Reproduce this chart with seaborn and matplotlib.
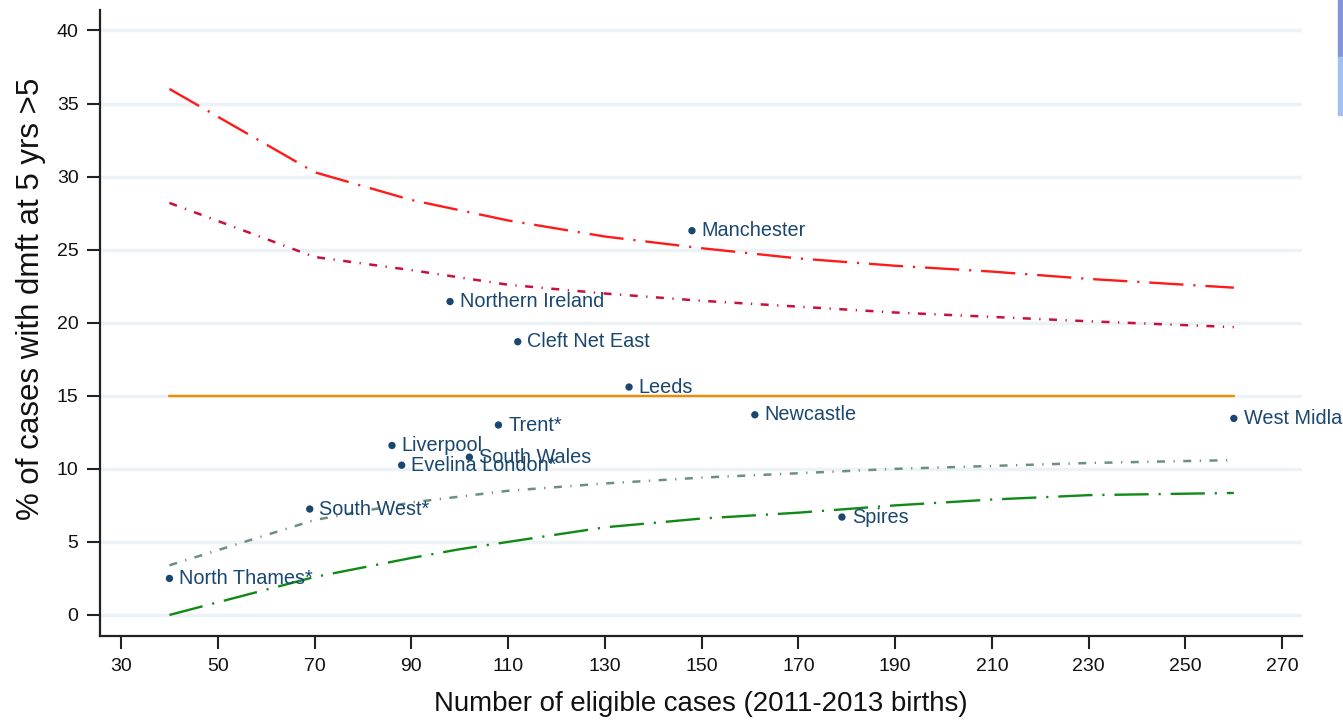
import matplotlib
matplotlib.use("Agg")
import matplotlib.pyplot as plt
import seaborn as sns
import pandas as pd
from matplotlib.patches import Rectangle

# Cleft centres: eligible cases and % with dmft > 5 at age 5
centres = ["North Thames*", "South West*", "Liverpool", "Evelina London*", "South Wales",
           "Trent*", "Northern Ireland", "Cleft Net East", "Leeds", "Manchester",
           "Newcastle", "Spires", "West Midlands"]
cases = [40, 69, 86, 88, 102, 108, 98, 112, 135, 148, 161, 179, 260]
pct_dmft = [2.5, 7.25, 11.6, 10.25, 10.8, 13.0, 21.45, 18.7, 15.6, 26.3, 13.7, 6.7, 13.45]

# Funnel limits evaluated along the number of cases
funnel_n = [40, 70, 90, 100, 110, 130, 150, 170, 190, 210, 230, 260]
upper_998 = [36.0, 30.3, 28.4, 27.7, 27.0, 25.9, 25.1, 24.4, 23.9, 23.5, 23.0, 22.4]
upper_95 = [28.2, 24.5, 23.6, 23.1, 22.6, 22.0, 21.5, 21.1, 20.7, 20.4, 20.1, 19.7]
lower_95 = [3.4, 6.5, 7.7, 8.1, 8.5, 9.0, 9.4, 9.7, 10.0, 10.2, 10.4, 10.6]
lower_998 = [0.0, 2.6, 3.9, 4.5, 5.0, 6.0, 6.6, 7.0, 7.5, 7.9, 8.2, 8.35]
mean_pct = 15.0

x_ticks = list(range(30, 271, 20))
y_ticks = list(range(0, 41, 5))

sns.set_theme(style="white")
plt.rcParams["font.family"] = ["Liberation Sans", "DejaVu Sans"]

fig = plt.figure(figsize=(13.43, 7.22), dpi=100)
ax = fig.add_axes([0.0745, 0.1191, 0.8950, 0.8670])

navy = "#1a476f"
funnel = pd.DataFrame({"n": funnel_n, "u998": upper_998, "u95": upper_95,
                       "l95": lower_95, "l998": lower_998})
funnel["mean"] = mean_pct

long_dash_dot = (0, (14.5, 4.2, 0.9, 4.2))
short_dash_dot = (0, (3.2, 3.4, 0.5, 3.4))
sns.lineplot(data=funnel, x="n", y="mean", ax=ax, color="#f28a00", lw=1.7, zorder=3)
sns.lineplot(data=funnel, x="n", y="u998", ax=ax, color="#ff1a1a", lw=1.7, zorder=3,
             linestyle=long_dash_dot)
sns.lineplot(data=funnel, x="n", y="l998", ax=ax, color="#0f8a14", lw=1.7, zorder=3,
             linestyle=long_dash_dot)
sns.lineplot(data=funnel, x="n", y="u95", ax=ax, color="#c8103e", lw=1.8, zorder=3,
             linestyle=short_dash_dot)
sns.lineplot(data=funnel, x="n", y="l95", ax=ax, color="#6c9080", lw=1.8, zorder=3,
             linestyle=short_dash_dot)

pts = pd.DataFrame({"centre": centres, "cases": cases, "pct": pct_dmft})
sns.scatterplot(data=pts, x="cases", y="pct", ax=ax, color=navy, s=28,
                edgecolor="none", zorder=4)
for name, xv, yv in zip(centres, cases, pct_dmft):
    ax.annotate(name, (xv, yv), xytext=(7, 0), textcoords="offset points",
                ha="left", va="center", fontsize=14.3, color=navy,
                annotation_clip=False, clip_on=False, zorder=5)

ax.set_xlim(25.66, 274.1)
ax.set_ylim(-1.44, 41.4)
ax.set_xticks(x_ticks)
ax.set_yticks(y_ticks)
ax.tick_params(axis="both", direction="out", length=9.5, width=1.5, color="#222222",
               labelsize=14, labelcolor="#111111", pad=6,
               bottom=True, left=True)
for yv in y_ticks:
    ax.axhline(yv, color="#edf2f6", lw=2.5, zorder=0)
ax.grid(False)

for side in ["top", "right"]:
    ax.spines[side].set_visible(False)
for side in ["left", "bottom"]:
    ax.spines[side].set_color("#222222")
    ax.spines[side].set_linewidth(1.6)

ax.set_xlabel("Number of eligible cases (2011-2013 births)", fontsize=19.9,
              color="#111111", labelpad=12)
ax.set_ylabel("% of cases with dmft at 5 yrs >5", fontsize=22.5, color="#111111")
ax.yaxis.set_label_coords(-0.045, 0.538)

# window-edge strip at the upper right
fig.patches.append(Rectangle((1338 / 1343, 1 - 57 / 722), 5 / 1343, 57 / 722,
                             transform=fig.transFigure, color="#8395d8", zorder=10))
fig.patches.append(Rectangle((1338 / 1343, 1 - 115 / 722), 5 / 1343, 58 / 722,
                             transform=fig.transFigure, color="#a3c1ef", zorder=10))

fig.savefig("out.png", dpi=100)
